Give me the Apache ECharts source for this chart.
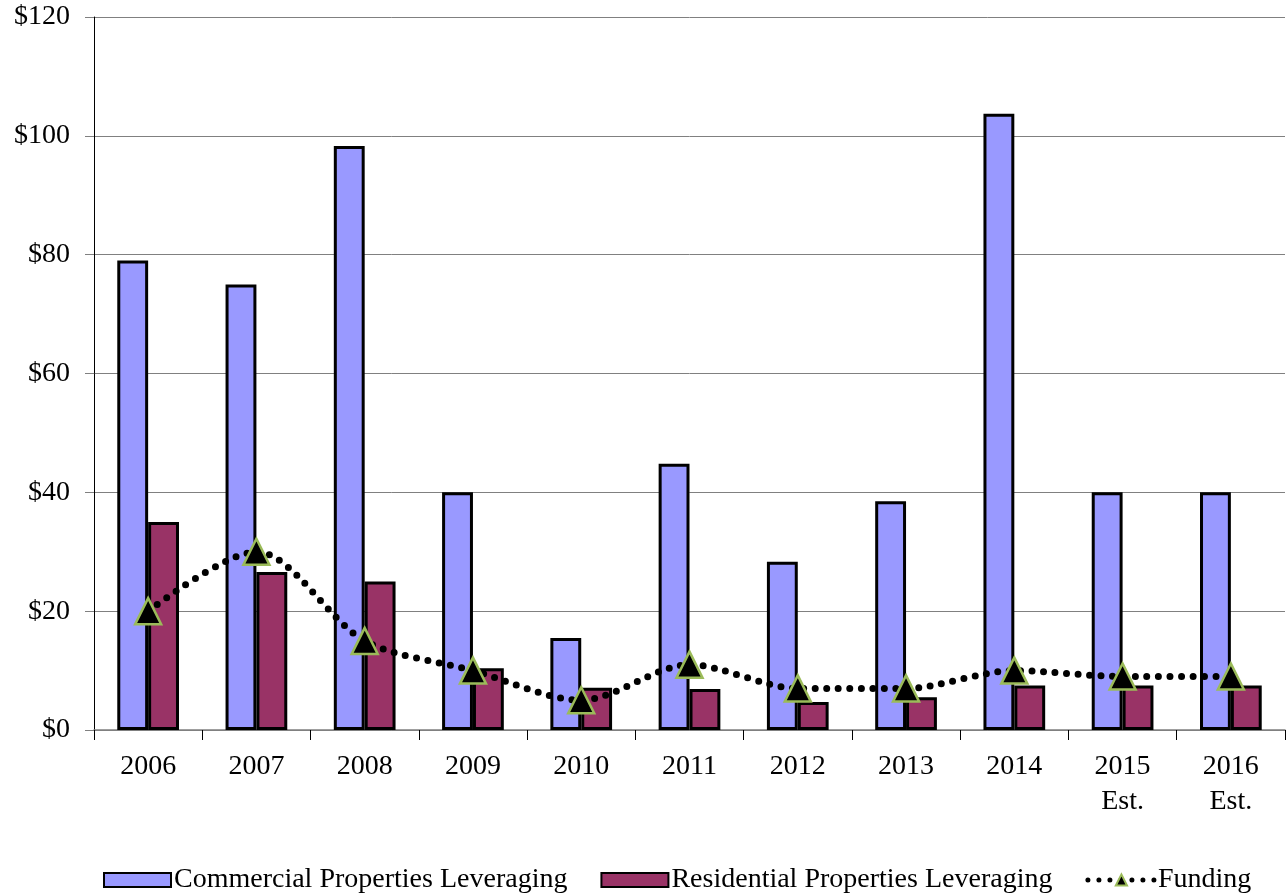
<!DOCTYPE html>
<html>
<head>
<meta charset="utf-8">
<script src="https://cdn.jsdelivr.net/npm/echarts@6/dist/echarts.min.js"></script>
<style>
  html, body { margin: 0; padding: 0; background: #fff; }
  #chart { width: 1286px; height: 896px; }
</style>
</head>
<body>
<div id="chart"></div>
<script>
// Years on the category axis (last two are estimates)
const categories = ['2006', '2007', '2008', '2009', '2010', '2011', '2012', '2013', '2014', '2015\nEst.', '2016\nEst.'];
// Values in billions of dollars
const commercial = [79, 75, 98.3, 40, 15.5, 44.8, 28.3, 38.5, 103.7, 40, 40];
const residential = [35, 26.6, 25, 10.4, 7.1, 6.9, 4.7, 5.5, 7.5, 7.5, 7.5];
const funding = [20, 30, 15, 10, 5, 11, 7, 7, 10, 9, 9];

const FONT = '"Liberation Serif", "Times New Roman", serif';

const chart = echarts.init(document.getElementById('chart'), null, { renderer: 'canvas' });
chart.setOption({
  animation: false,
  backgroundColor: '#ffffff',
  textStyle: { fontFamily: FONT, color: '#000' },
  grid: { left: 94, right: 1, top: 17, bottom: 166 },
  legend: {
    top: 866,
    left: 103,
    padding: 0,
    itemWidth: 67,
    itemHeight: 14,
    itemGap: 33,
    textStyle: { fontFamily: FONT, fontSize: 28, color: '#000', padding: [0, 0, 0, -2] },
    data: [
      { name: 'Commercial Properties Leveraging', icon: 'rect' },
      { name: 'Residential Properties Leveraging', icon: 'rect' },
      {
        name: 'Funding',
        itemStyle: { color: '#000', borderColor: '#9BBB59', borderWidth: 2 },
        lineStyle: { color: '#000', width: 5, type: [0, 11], cap: 'round' }
      }
    ]
  },
  xAxis: {
    type: 'category',
    data: categories,
    axisLine: { lineStyle: { color: '#808080', width: 1.5 } },
    axisTick: { show: true, length: 10, lineStyle: { color: '#000' } },
    axisLabel: { fontFamily: FONT, fontSize: 28, color: '#000', margin: 19, lineHeight: 35 }
  },
  yAxis: {
    type: 'value',
    min: 0,
    max: 120,
    interval: 20,
    axisLine: { show: true, lineStyle: { color: '#000', width: 1 } },
    axisTick: { show: true, length: 9, lineStyle: { color: '#808080' } },
    splitLine: { show: true, lineStyle: { color: '#808080', width: 1 } },
    axisLabel: {
      fontFamily: FONT, fontSize: 28, color: '#000', margin: 24,
      formatter: v => '$' + v
    }
  },
  series: [
    {
      name: 'Commercial Properties Leveraging',
      type: 'bar',
      data: commercial,
      barGap: '0%',
      barCategoryGap: '43%',
      itemStyle: { color: '#9999FF', borderColor: '#000', borderWidth: 3 }
    },
    {
      name: 'Residential Properties Leveraging',
      type: 'bar',
      data: residential,
      itemStyle: { color: '#993366', borderColor: '#000', borderWidth: 3 }
    },
    {
      name: 'Funding',
      type: 'line',
      data: funding,
      smooth: 0.3,
      symbol: 'triangle',
      symbolSize: 26,
      itemStyle: { color: '#000', borderColor: '#9BBB59', borderWidth: 2.5 },
      lineStyle: { color: '#000', width: 7, type: [0, 11.5], cap: 'round' },
      z: 5
    }
  ]
});
</script>
</body>
</html>
